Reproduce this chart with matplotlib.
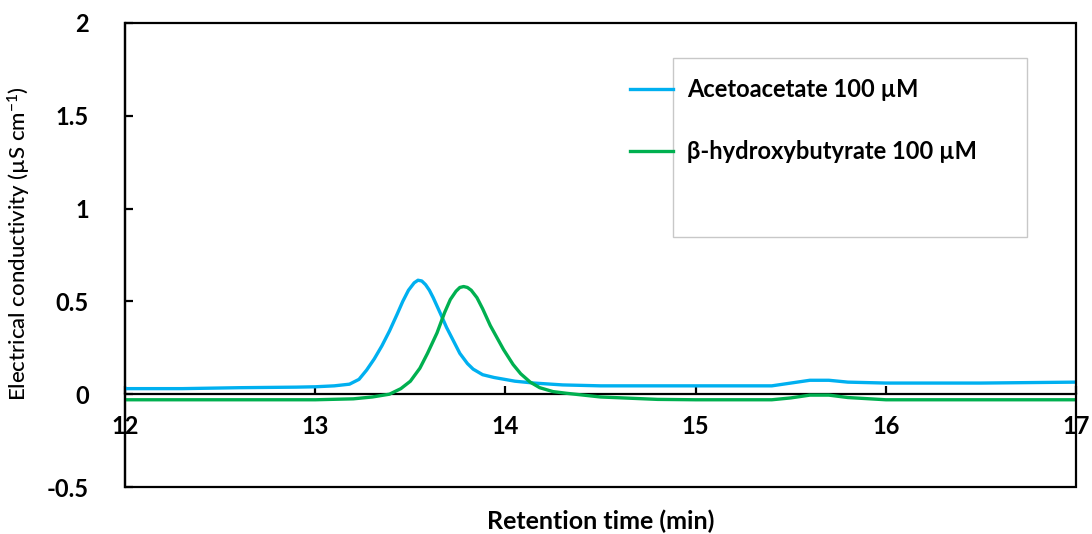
import matplotlib.pyplot as plt
from matplotlib.lines import Line2D
from matplotlib.patches import Rectangle

plt.rcParams["font.family"] = ["Lato", "DejaVu Sans"]
plt.rcParams["font.weight"] = "bold"
plt.rcParams["mathtext.default"] = "regular"

BLUE = "#00B0F0"
GREEN = "#00B050"

# retention time (min) / conductivity (uS cm-1)
aceto_t = [12.0, 12.3, 12.6, 12.9, 13.0, 13.1, 13.18, 13.23, 13.27, 13.31,
           13.35, 13.39, 13.43, 13.46, 13.49, 13.52, 13.54, 13.56, 13.58,
           13.6, 13.62, 13.66, 13.69, 13.73, 13.76, 13.8, 13.83, 13.88, 13.94,
           14.05, 14.15, 14.3, 14.5, 15.0, 15.4, 15.5, 15.6, 15.7, 15.8, 16.0,
           16.5, 17.0]
aceto_y = [0.03, 0.03, 0.035, 0.038, 0.04, 0.045, 0.054, 0.08, 0.13, 0.19,
           0.26, 0.34, 0.43, 0.5, 0.56, 0.6, 0.614, 0.61, 0.59,
           0.56, 0.52, 0.43, 0.36, 0.28, 0.22, 0.165, 0.135, 0.105, 0.09,
           0.07, 0.06, 0.05, 0.045, 0.045, 0.045, 0.06, 0.075, 0.075, 0.065,
           0.06, 0.06, 0.065]

bhb_t = [12.0, 12.5, 13.0, 13.2, 13.3, 13.39, 13.45, 13.5, 13.55, 13.59,
         13.64, 13.68, 13.71, 13.74, 13.76, 13.78, 13.8, 13.82, 13.85,
         13.88, 13.92, 13.99, 14.04, 14.08, 14.13, 14.18, 14.25, 14.32, 14.5,
         14.8, 15.0, 15.4, 15.5, 15.6, 15.7, 15.8, 16.0, 16.5, 17.0]
bhb_y = [-0.03, -0.03, -0.03, -0.025, -0.015, 0.0, 0.03, 0.07, 0.14, 0.22,
         0.33, 0.44, 0.51, 0.555, 0.575, 0.58, 0.575, 0.56, 0.52,
         0.46, 0.37, 0.24, 0.16, 0.11, 0.065, 0.035, 0.014, 0.005, -0.015,
         -0.028, -0.03, -0.03, -0.02, -0.005, -0.005, -0.018, -0.03, -0.03,
         -0.03]

LABELS = ["Acetoacetate 100 µM", "β-hydroxybutyrate 100 µM"]

fig = plt.figure(figsize=(10.92, 5.34), dpi=100)
ax = fig.add_axes([0.1145, 0.088, 0.871, 0.869])

ax.plot(aceto_t, aceto_y, color=BLUE, lw=2.4, zorder=3)
ax.plot(bhb_t, bhb_y, color=GREEN, lw=2.4, zorder=3)

ax.set_xlim(12, 17)
ax.set_ylim(-0.5, 2)
ax.set_xticks([12, 13, 14, 15, 16, 17])
ax.set_yticks([-0.5, 0, 0.5, 1, 1.5, 2])
ax.set_yticklabels(["-0.5", "0", "0.5", "1", "1.5", "2"])

# x axis crosses at y = 0, frame drawn separately
for s in ["top", "right", "left", "bottom"]:
    ax.spines[s].set_linewidth(1.6)
ax.spines["bottom"].set_position(("data", 0))
ax.spines["top"].set_visible(False)
ax.spines["right"].set_visible(False)
ax.add_patch(Rectangle((0, 0), 1, 1, transform=ax.transAxes, fill=False,
                       lw=1.6, edgecolor="black", clip_on=False, zorder=4))

ax.tick_params(axis="x", direction="in", length=6, width=1.6, labelsize=17,
               pad=15)
ax.tick_params(axis="y", direction="in", length=6, width=1.6, labelsize=17,
               pad=26)

ax.set_xlabel("Retention time (min)", fontsize=18, fontweight="bold",
              labelpad=0)
ax.xaxis.set_label_coords(0.5, -0.048)
ax.set_ylabel("Electrical conductivity (µS cm$^{-1}$)", fontsize=16,
              fontweight="medium")
ax.yaxis.set_label_coords(-0.097, 0.525)

# Excel-style legend: gray box with handles poking out on the left
ax.add_patch(Rectangle((0.576, 0.539), 0.3725, 0.3856, transform=ax.transAxes,
                       fill=True, facecolor="white", edgecolor="#C8C8C8",
                       lw=1.0, zorder=5))
for yy, col, lab in zip([0.857, 0.724], [BLUE, GREEN], LABELS):
    ax.add_line(Line2D([0.531, 0.576], [yy, yy], transform=ax.transAxes,
                       color=col, lw=2.4, zorder=6))
    ax.text(0.591, yy, lab, transform=ax.transAxes, fontsize=17,
            fontweight="bold", va="center", ha="left", zorder=6)

fig.savefig("out.png", dpi=100, facecolor="white")
